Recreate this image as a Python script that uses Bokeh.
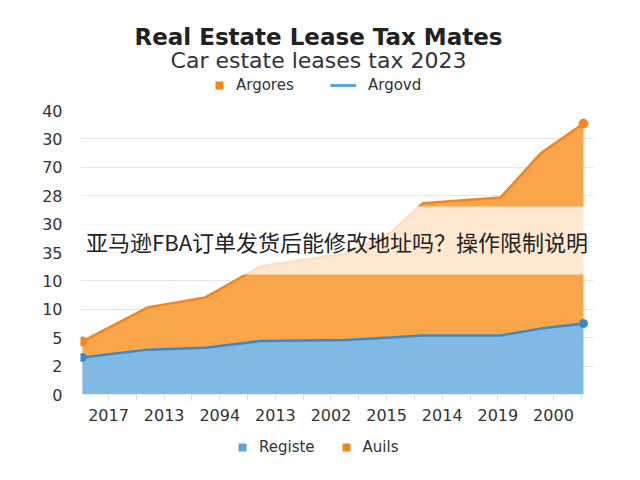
from bokeh.embed import file_html
from bokeh.layouts import column
from bokeh.models import (
    FixedTicker,
    Label,
    Legend,
    LegendItem,
)
from bokeh.plotting import figure
from bokeh.resources import INLINE

# Data (x in label-slot units, y in tick-slot units)
x_labels = ["2017", "2013", "2094", "2013", "2002", "2015", "2014", "2019", "2000"]
y_labels = ["0", "2", "5", "10", "10", "35", "30", "28", "70", "30", "40"]

x_pos = [-0.47, 0.70, 1.74, 2.73, 4.26, 5.07, 5.65, 7.05, 7.77, 8.54]
argovd = [1.30, 1.58, 1.65, 1.88, 1.92, 2.01, 2.08, 2.08, 2.32, 2.50]
argores = [1.87, 3.06, 3.42, 4.51, 4.96, 5.70, 6.73, 6.94, 8.49, 9.54]

title_text = "Real Estate Lease Tax Mates"
subtitle_text = "Car estate leases tax 2023"
banner = "亚马逊FBA订单发货后能修改地址吗？操作限制说明"

BLUE_FILL = "#7fb9e4"
BLUE_LINE = "#3a8ac6"
ORANGE_FILL = "#f9a64a"
ORANGE_LINE = "#f0861f"
LEG_BLUE = "#5aa5dc"
LEG_ORANGE = "#f7880f"
FONT = "DejaVu Sans"
NAN = float("nan")


def blank(height):
    # header/footer strip; the column aligns its frame with the chart frame
    # (x 80..593), so the range is set to read in page pixels
    f = figure(width=640, height=height, x_range=(80, 593), y_range=(height, 0),
               x_axis_location=None, y_axis_location=None,
               output_backend="svg", toolbar_location=None, min_border=0)
    f.outline_line_color = None
    f.grid.grid_line_color = None
    return f


def make_legend(items, loc, glyph_w, glyph_h, spacing=0):
    return Legend(
        items=[LegendItem(label=t, renderers=[r]) for t, r in items],
        orientation="horizontal",
        location=loc,
        glyph_width=glyph_w,
        glyph_height=glyph_h,
        label_height=16,
        label_standoff=12,
        label_text_font=FONT,
        label_text_font_size="15px",
        label_text_color="#333333",
        spacing=spacing,
        padding=0,
        margin=0,
        border_line_color=None,
        background_fill_alpha=0,
    )


# ---- header: titles and top legend
top = blank(100)
top.add_layout(Label(x=318, y=36, text=title_text, text_align="center",
                     text_baseline="middle", text_font=FONT,
                     text_font_size="23px", text_font_style="bold",
                     text_color="#222222"))
top.add_layout(Label(x=318, y=60, text=subtitle_text, text_align="center",
                     text_baseline="middle", text_font=FONT,
                     text_font_size="22px", text_color="#333333"))
t_sq = top.varea(x=[NAN], y1=[NAN], y2=[NAN], fill_color=LEG_ORANGE)
t_ln = top.line([NAN, NAN], [NAN, NAN], line_color=LEG_BLUE, line_width=3)
top.add_layout(make_legend([("Argores", t_sq)], (134, 6), 10, 10))
top.add_layout(make_legend([("Argovd", t_ln)], (250, 6), 26, 12))

# ---- main chart
p = figure(
    width=640,
    height=334,
    x_range=(-0.504, 8.72),
    y_range=(0, 10),
    title=None,
    output_backend="svg",
    toolbar_location=None,
    min_border_left=80,
    min_border_right=47,
    min_border_top=10,
    min_border_bottom=40,
)
p.outline_line_color = None

p.varea(x=x_pos, y1=0, y2=argovd, fill_color=BLUE_FILL)
p.varea(x=x_pos, y1=argovd, y2=argores, fill_color=ORANGE_FILL)
p.line(x_pos, argores, line_color=ORANGE_LINE, line_width=2.5)
p.line(x_pos, argovd, line_color=BLUE_LINE, line_width=2.5)
p.scatter([x_pos[0], x_pos[-1]], [argores[0], argores[-1]], size=9, color=ORANGE_LINE)
p.scatter([x_pos[0], x_pos[-1]], [argovd[0], argovd[-1]], size=8, color=BLUE_LINE)

p.xaxis.ticker = FixedTicker(
    ticks=list(range(len(x_labels))),
    minor_ticks=[i + 0.5 for i in range(len(x_labels))],
)
p.xaxis.major_label_overrides = {i: t for i, t in enumerate(x_labels)}
p.yaxis.ticker = FixedTicker(ticks=list(range(len(y_labels))))
p.yaxis.major_label_overrides = {i: t for i, t in enumerate(y_labels)}

p.axis.axis_line_color = None
p.axis.major_label_text_font = FONT
p.axis.major_label_text_font_size = "16px"
p.axis.major_label_text_color = "#333333"
p.xaxis.major_tick_line_color = "#dddddd"
p.xaxis.minor_tick_line_color = "#dddddd"
p.xaxis.major_tick_in = 0
p.xaxis.major_tick_out = 6
p.xaxis.minor_tick_in = 0
p.xaxis.minor_tick_out = 6
p.xaxis.major_label_standoff = 8
p.yaxis.major_tick_line_color = None
p.yaxis.minor_tick_line_color = None
p.yaxis.major_label_standoff = 12

p.xgrid.grid_line_color = None
p.ygrid.grid_line_color = "#e5e5e5"

# overlay banner with a translucent white band
p.add_layout(Label(x=4.11, y=5.42, text=banner, text_align="center",
                   text_baseline="middle", text_font="Noto Sans CJK SC",
                   text_font_size="22px", text_color="#222222",
                   background_fill_color="white", background_fill_alpha=0.74,
                   padding=(40, 18)))

# ---- footer legend
bottom = blank(46)
b_blue = bottom.varea(x=[NAN], y1=[NAN], y2=[NAN], fill_color=LEG_BLUE)
b_orange = bottom.varea(x=[NAN], y1=[NAN], y2=[NAN], fill_color=LEG_ORANGE)
bottom.add_layout(make_legend([("Registe", b_blue), ("Auils", b_orange)],
                              (157, 24), 10, 10, spacing=26))

layout = column(top, p, bottom, spacing=0)
open("out.html", "w").write(file_html(layout, INLINE))
